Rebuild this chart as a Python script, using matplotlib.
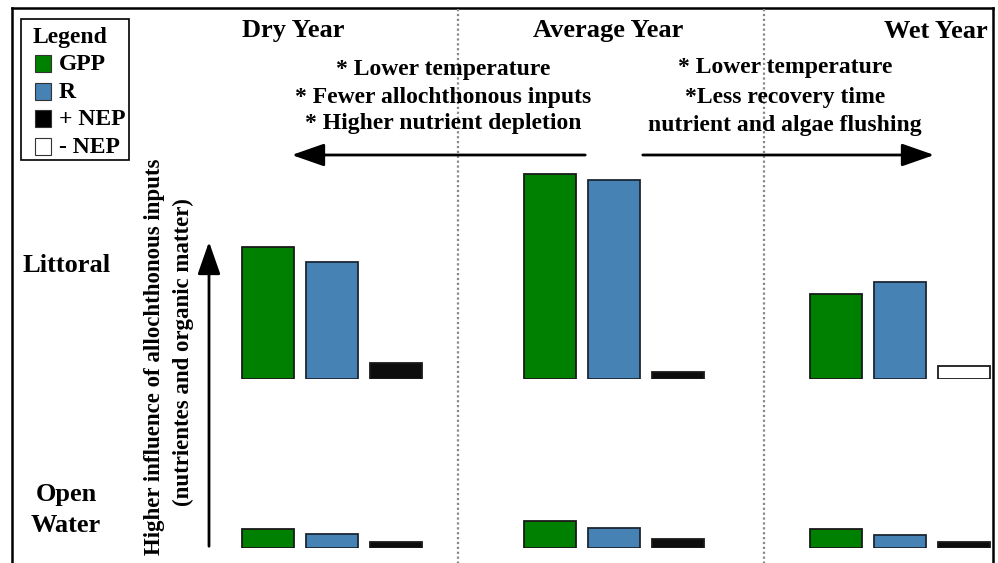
import matplotlib.pyplot as plt
from matplotlib.patches import Rectangle

# data (bar heights, arbitrary units)
years = ['Dry Year', 'Average Year', 'Wet Year']
littoral_gpp = [132, 205, 85]
littoral_r = [117, 199, 97]
littoral_nep = [16, 7, -13]
open_gpp = [19, 27, 19]
open_r = [14, 20, 13]
open_nep = [6, 9, 6]

legend_labels = ['GPP', 'R', '+ NEP', '- NEP']
left_notes = ['* Lower temperature', '* Fewer allochthonous inputs', '* Higher nutrient depletion']
right_notes = ['* Lower temperature', '*Less recovery time', 'nutrient and algae flushing']

GREEN = '#008000'
BLUE = '#4682b4'
BLACK = '#0d0d0d'

W, H = 998, 563
fig = plt.figure(figsize=(W / 100, H / 100), dpi=100)
plt.rcParams['font.family'] = ['Liberation Serif', 'DejaVu Serif']
plt.rcParams['font.weight'] = 'bold'

# overlay axes in pixel coordinates
ov = fig.add_axes([0, 0, 1, 1])
ov.set_xlim(0, W)
ov.set_ylim(H, 0)
ov.axis('off')


def row_axes(base_px, top_px):
    # axes whose y-units are pixels above the baseline
    ax = fig.add_axes([0, 1 - base_px / H, 1, (base_px - top_px) / H])
    ax.set_xlim(0, W)
    ax.set_ylim(0, base_px - top_px)
    ax.axis('off')
    return ax


ax_lit = row_axes(379, 150)
ax_open = row_axes(548, 500)

centers = [332, 614.5, 900.5]
bw = 52
for ax, gpp, r, nep in [(ax_lit, littoral_gpp, littoral_r, littoral_nep),
                        (ax_open, open_gpp, open_r, open_nep)]:
    ax.bar([c - 64 for c in centers], gpp, width=bw, color=GREEN,
           edgecolor='#1a1a1a', linewidth=1.3)
    ax.bar(centers, r, width=bw, color=BLUE, edgecolor='#1c2733', linewidth=1.3)
    ax.bar([c + 64 for c in centers], [abs(v) for v in nep], width=bw,
           color=[BLACK if v > 0 else 'white' for v in nep],
           edgecolor='#1a1a1a', linewidth=1.3)

# frame and separators
ov.plot([12, 12], [8, H], color='black', lw=1.8)
ov.plot([12, 993], [8, 8], color='black', lw=1.8)
ov.plot([993, 993], [8, H], color='black', lw=1.8)
for x in [458, 764]:
    ov.plot([x, x], [9, H], color='#888888', lw=1.6, ls=(0, (1, 1.2)))

# headers
ov.text(293, 31, years[0], ha='center', va='center', fontsize=19)
ov.text(608, 31, years[1], ha='center', va='center', fontsize=19)
ov.text(988, 31, years[2], ha='right', va='center', fontsize=19)

for y, t in zip([69, 97, 124], left_notes):
    ov.text(443, y, t, ha='center', va='center', fontsize=17)
for y, t in zip([68, 97, 126], right_notes):
    ov.text(785, y, t, ha='center', va='center', fontsize=17)

# arrows
arr = dict(arrowstyle='-|>,head_length=2.0,head_width=0.7', color='black', lw=2)
ov.annotate('', xy=(289, 155), xytext=(588, 155), arrowprops=arr)
ov.annotate('', xy=(937, 155), xytext=(640, 155), arrowprops=arr)
ov.annotate('', xy=(209, 239), xytext=(209, 549), arrowprops=arr)

# row labels
ov.text(67, 265, 'Littoral', ha='center', va='center', fontsize=19)
ov.text(66, 495, 'Open', ha='center', va='center', fontsize=19)
ov.text(66, 525, 'Water', ha='center', va='center', fontsize=19)

ov.text(155, 357, 'Higher influence of allochthonous inputs', rotation=90,
        ha='center', va='center', fontsize=16.5)
ov.text(183, 352, '(nutrientes and organic matter)', rotation=90,
        ha='center', va='center', fontsize=16.5)

# legend box
ov.add_patch(Rectangle((21, 19), 108, 141, fill=False, edgecolor='black', lw=1.2))
ov.text(33, 38, 'Legend', ha='left', va='center', fontsize=17)
for y, lab, col in zip([63, 91, 118, 146], legend_labels,
                       [GREEN, BLUE, 'black', 'white']):
    ov.add_patch(Rectangle((35, y - 8.5), 16, 17, facecolor=col,
                           edgecolor='#333333', lw=0.8))
    ov.text(59, y + 1.5, lab, ha='left', va='center', fontsize=17)

fig.savefig('out.png', dpi=100)
